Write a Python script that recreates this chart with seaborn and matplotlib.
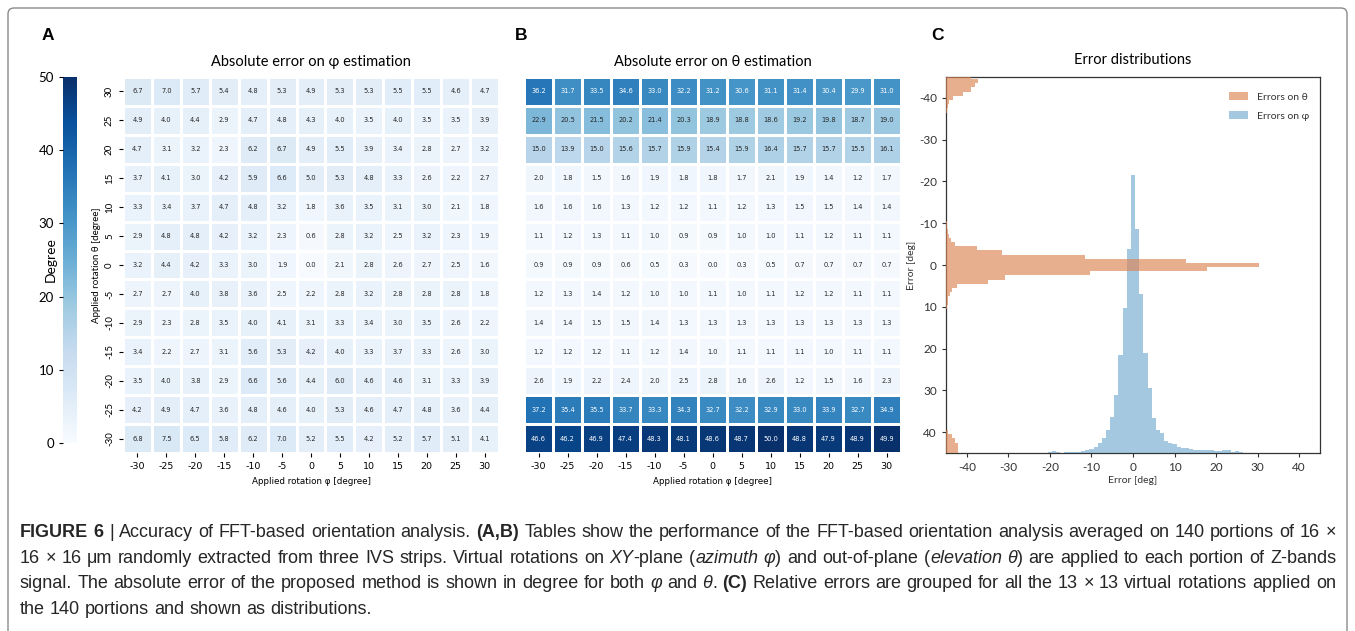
import re
import numpy as np
import pandas as pd
import matplotlib
matplotlib.use("Agg")
import matplotlib.pyplot as plt
from matplotlib.patches import Patch, FancyBboxPatch
import seaborn as sns

plt.rcParams['axes.unicode_minus'] = False

# ---------------- data ----------------
phi_vals = [-30, -25, -20, -15, -10, -5, 0, 5, 10, 15, 20, 25, 30]
theta_vals = [30, 25, 20, 15, 10, 5, 0, -5, -10, -15, -20, -25, -30]

err_phi = [
    [6.7, 7.0, 5.7, 5.4, 4.8, 5.3, 4.9, 5.3, 5.3, 5.5, 5.5, 4.6, 4.7],
    [4.9, 4.0, 4.4, 2.9, 4.7, 4.8, 4.3, 4.0, 3.5, 4.0, 3.5, 3.5, 3.9],
    [4.7, 3.1, 3.2, 2.3, 6.2, 6.7, 4.9, 5.5, 3.9, 3.4, 2.8, 2.7, 3.2],
    [3.7, 4.1, 3.0, 4.2, 5.9, 6.6, 5.0, 5.3, 4.8, 3.3, 2.6, 2.2, 2.7],
    [3.3, 3.4, 3.7, 4.7, 4.8, 3.2, 1.8, 3.6, 3.5, 3.1, 3.0, 2.1, 1.8],
    [2.9, 4.8, 4.8, 4.2, 3.2, 2.3, 0.6, 2.8, 3.2, 2.5, 3.2, 2.3, 1.9],
    [3.2, 4.4, 4.2, 3.3, 3.0, 1.9, 0.0, 2.1, 2.8, 2.6, 2.7, 2.5, 1.6],
    [2.7, 2.7, 4.0, 3.8, 3.6, 2.5, 2.2, 2.8, 3.2, 2.8, 2.8, 2.8, 1.8],
    [2.9, 2.3, 2.8, 3.5, 4.0, 4.1, 3.1, 3.3, 3.4, 3.0, 3.5, 2.6, 2.2],
    [3.4, 2.2, 2.7, 3.1, 5.6, 5.3, 4.2, 4.0, 3.3, 3.7, 3.3, 2.6, 3.0],
    [3.5, 4.0, 3.8, 2.9, 6.6, 5.6, 4.4, 6.0, 4.6, 4.6, 3.1, 3.3, 3.9],
    [4.2, 4.9, 4.7, 3.6, 4.8, 4.6, 4.0, 5.3, 4.6, 4.7, 4.8, 3.6, 4.4],
    [6.8, 7.5, 6.5, 5.8, 6.2, 7.0, 5.2, 5.5, 4.2, 5.2, 5.7, 5.1, 4.1],
]

err_theta = [
    [36.2, 31.7, 33.5, 34.6, 33.0, 32.2, 31.2, 30.6, 31.1, 31.4, 30.4, 29.9, 31.0],
    [22.9, 20.5, 21.5, 20.2, 21.4, 20.3, 18.9, 18.8, 18.6, 19.2, 19.8, 18.7, 19.0],
    [15.0, 13.9, 15.0, 15.6, 15.7, 15.9, 15.4, 15.9, 16.4, 15.7, 15.7, 15.5, 16.1],
    [2.0, 1.8, 1.5, 1.6, 1.9, 1.8, 1.8, 1.7, 2.1, 1.9, 1.4, 1.2, 1.7],
    [1.6, 1.6, 1.6, 1.3, 1.2, 1.2, 1.1, 1.2, 1.3, 1.5, 1.5, 1.4, 1.4],
    [1.1, 1.2, 1.3, 1.1, 1.0, 0.9, 0.9, 1.0, 1.0, 1.1, 1.2, 1.1, 1.1],
    [0.9, 0.9, 0.9, 0.6, 0.5, 0.3, 0.0, 0.3, 0.5, 0.7, 0.7, 0.7, 0.7],
    [1.2, 1.3, 1.4, 1.2, 1.0, 1.0, 1.1, 1.0, 1.1, 1.2, 1.2, 1.1, 1.1],
    [1.4, 1.4, 1.5, 1.5, 1.4, 1.3, 1.3, 1.3, 1.3, 1.3, 1.3, 1.3, 1.3],
    [1.2, 1.2, 1.2, 1.1, 1.2, 1.4, 1.0, 1.1, 1.1, 1.1, 1.0, 1.1, 1.1],
    [2.6, 1.9, 2.2, 2.4, 2.0, 2.5, 2.8, 1.6, 2.6, 1.2, 1.5, 1.6, 2.3],
    [37.2, 35.4, 35.5, 33.7, 33.3, 34.3, 32.7, 32.2, 32.9, 33.0, 33.9, 32.7, 34.9],
    [46.6, 46.2, 46.9, 47.4, 48.3, 48.1, 48.6, 48.7, 50.0, 48.8, 47.9, 48.9, 49.9],
]

# distribution of errors on phi (bin centre in deg, relative frequency)
phi_err_centers = list(range(-25, 31))
phi_err_freq = [0.1, 0.1, 0.1, 0.1, 0.1, 0.2, 0.4, 0.2, 0.1, 0.2,
                0.2, 0.3, 0.3, 0.4, 0.6, 0.9, 1.5, 2.3, 3.5, 5.6,
                8.7, 13.9, 23.5, 34.7, 48.9, 66.6, 53.7, 38.0, 24.0, 15.6,
                8.3, 5.6, 4.7, 2.9, 2.5, 2.1, 1.5, 1.3, 1.1, 0.9,
                0.8, 0.7, 0.8, 0.6, 0.6, 0.4, 0.5, 0.8, 0.7, 0.3,
                0.4, 0.3, 0.1, 0.1, 0.1, 0.1]

# distribution of errors on theta (bin centre in deg, relative frequency)
theta_err_centers = [-45, -44, -43, -42, -41, -40, -39, -38, -37,
                     -10, -9, -8, -7, -6, -5, -4, -3, -2, -1, 0, 1, 2, 3, 4, 5, 6, 7, 8, 9, 10,
                     40, 41, 42, 43, 44, 45]
theta_err_freq = [6.0, 7.6, 7.0, 6.0, 4.0, 1.8, 0.8, 0.4, 0.2,
                  0.3, 0.3, 0.5, 0.8, 1.2, 2.2, 7.5, 13.5, 33.4, 57.8, 75.3, 62.8, 34.6, 14.3, 10.0, 2.6, 1.5, 0.9, 0.6, 0.4, 0.3,
                  0.6, 1.4, 2.2, 2.8, 3.0, 2.9]

tick_deg = [-40, -30, -20, -10, 0, 10, 20, 30, 40]
cbar_ticks = [0, 10, 20, 30, 40, 50]

# ---------------- figure ----------------
W, H = 1355, 631
fig = plt.figure(figsize=(W / 100, H / 100), dpi=100)
fig.patch.set_facecolor('white')


def box(x0, y0, x1, y1):
    return [x0 / W, 1 - y1 / H, (x1 - x0) / W, (y1 - y0) / H]


LATO = ['Lato', 'DejaVu Sans']
BLUE = '#1f77b4'
ORANGE = '#dd8452'

# frame around the figure
fig.patches.append(FancyBboxPatch((8 / 100, (H - 660) / 100), (W - 16) / 100, (660 - 8) / 100,
                                  boxstyle='round,pad=0,rounding_size=0.06',
                                  transform=fig.dpi_scale_trans, fill=False,
                                  edgecolor='#8a8a8a', linewidth=1.0))

# ---- panel A ----
dfA = pd.DataFrame(err_phi, index=theta_vals, columns=phi_vals)
axA = fig.add_axes(box(123, 77, 499, 453))
sns.heatmap(dfA, ax=axA, cmap='Blues', vmin=0, vmax=50, annot=True, fmt='.1f',
            annot_kws={'fontsize': 4.8}, linewidths=1, linecolor='white', cbar=False)
axA.set_title('Absolute error on φ estimation', family=LATO, fontsize=10.5, pad=8)
axA.set_xlabel('Applied rotation φ [degree]', fontsize=6.3, labelpad=4)
axA.set_ylabel('Applied rotation θ [degree]', family=LATO, fontsize=7, labelpad=3)
axA.tick_params(axis='x', labelsize=6.8, length=3, width=0.8, rotation=0)
axA.tick_params(axis='y', labelsize=7, length=3, width=0.8)
for t in axA.get_yticklabels():
    t.set_rotation(90)
    t.set_va('center')
    t.set_family(LATO)

# colorbar
cax = fig.add_axes(box(63, 77, 77, 443))
cb = fig.colorbar(axA.collections[0], cax=cax)
cb.outline.set_visible(False)
cb.set_ticks(cbar_ticks)
cax.yaxis.set_ticks_position('left')
cax.yaxis.set_label_position('left')
cax.tick_params(labelsize=9.5, length=3, width=0.8)
for t in cax.get_yticklabels():
    t.set_family(LATO)
cb.set_label('Degree', family=LATO, fontsize=10, labelpad=2)
cax.yaxis.set_label_coords(-0.45, 0.5)

# ---- panel B ----
dfB = pd.DataFrame(err_theta, index=theta_vals, columns=phi_vals)
axB = fig.add_axes(box(524, 77, 901, 453))
sns.heatmap(dfB, ax=axB, cmap='Blues', vmin=0, vmax=50, annot=True, fmt='.1f',
            annot_kws={'fontsize': 4.8}, linewidths=1, linecolor='white', cbar=False,
            yticklabels=False)
axB.set_title('Absolute error on θ estimation', family=LATO, fontsize=10.5, pad=8)
axB.set_xlabel('Applied rotation φ [degree]', fontsize=6.3, labelpad=4)
axB.set_ylabel('')
axB.tick_params(axis='x', labelsize=6.8, length=3, width=0.8, rotation=0)

# ---- panel C ----
axC = fig.add_axes(box(946, 77, 1320, 453))
ax_phi = axC.twinx()
ax_th = axC.twiny()
df_phi = pd.DataFrame({'err': phi_err_centers, 'freq': phi_err_freq})
df_th = pd.DataFrame({'err': theta_err_centers, 'freq': theta_err_freq})
sns.histplot(data=df_phi, x='err', weights='freq', binwidth=1,
             binrange=(min(phi_err_centers) - 0.5, max(phi_err_centers) + 0.5), ax=ax_phi,
             color=BLUE, alpha=0.4, edgecolor='none', linewidth=0)
sns.histplot(data=df_th, y='err', weights='freq', binwidth=1,
             binrange=(min(theta_err_centers) - 0.5, max(theta_err_centers) + 0.5), ax=ax_th,
             color=ORANGE, alpha=0.65, edgecolor='none', linewidth=0)
ax_phi.set_ylim(0, 90)
ax_phi.set_yticks([])
ax_phi.set_ylabel('')
ax_phi.set_xlabel('')
ax_th.set_xlim(0, 90)
ax_th.set_xticks([])
ax_th.set_xlabel('')
ax_th.set_ylabel('')
for a in (ax_phi, ax_th):
    for s in a.spines.values():
        s.set_visible(False)
axC.set_xlim(-45, 45)
axC.set_ylim(45, -45)
axC.set_xticks(tick_deg)
axC.set_yticks(tick_deg)
for s in axC.spines.values():
    s.set_color('#333333')
    s.set_linewidth(0.9)
axC.tick_params(labelsize=8.5, length=3, width=0.8, colors='#333333')
for t in axC.get_xticklabels() + axC.get_yticklabels():
    t.set_family(LATO)
axC.set_xlabel('Error [deg]', family=LATO, fontsize=7.5, labelpad=2, color='#333333')
axC.set_ylabel('Error [deg]', family=LATO, fontsize=7.5, labelpad=2, color='#333333')
axC.set_title('Error distributions', family=LATO, fontsize=10.5, pad=9)
handles = [Patch(facecolor=ORANGE, alpha=0.65, edgecolor='none'),
           Patch(facecolor=BLUE, alpha=0.4, edgecolor='none')]
ax_th.legend(handles, ['Errors on θ', 'Errors on φ'], loc='upper right',
             bbox_to_anchor=(0.995, 0.985), frameon=False,
             prop={'family': LATO, 'size': 7.5}, handlelength=1.8, handleheight=0.8,
             labelspacing=0.9, labelcolor='#333333')

# panel letters
for letter, x in (('A', 48), ('B', 521), ('C', 937)):
    fig.text(x / W, 1 - 35 / H, letter, ha='center', va='center', fontsize=12.5,
             fontweight='bold', family=['Liberation Sans', 'DejaVu Sans'])

# ---------------- caption ----------------
caption_lines = [
    "**FIGURE 6** | Accuracy of FFT-based orientation analysis. **(A,B)** Tables show the performance of the FFT-based orientation analysis averaged on 140 portions of 16 ×",
    "16 × 16 μm randomly extracted from three IVS strips. Virtual rotations on __XY__-plane (__azimuth φ__) and out-of-plane (__elevation θ__) are applied to each portion of Z-bands",
    "signal. The absolute error of the proposed method is shown in degree for both __φ__ and __θ__. **(C)** Relative errors are grouped for all the 13 × 13 virtual rotations applied on",
    "the 140 portions and shown as distributions.",
]


def parse_words(s):
    runs = []
    for part in re.split(r'(\*\*.*?\*\*|__.*?__)', s):
        if not part:
            continue
        if part.startswith('**'):
            runs.append((part[2:-2], 'bold'))
        elif part.startswith('__'):
            runs.append((part[2:-2], 'italic'))
        else:
            runs.append((part, 'normal'))
    words = [[]]
    for text, st in runs:
        pieces = text.split(' ')
        for i, p in enumerate(pieces):
            if i > 0:
                words.append([])
            if p:
                words[-1].append((p, st))
    return [w for w in words if w]


cap_fam = 'Liberation Sans'
renderer = fig.canvas.get_renderer()


def props(st, size):
    return dict(family=[cap_fam, 'DejaVu Sans'], fontsize=size,
                fontweight='bold' if st == 'bold' else 'normal',
                fontstyle='italic' if st == 'italic' else 'normal', color='#262626')


def tw(s, st, size):
    t = fig.text(0, 0, s, **props(st, size))
    w = t.get_window_extent(renderer).width
    t.remove()
    return w


def natural(line, size):
    words = parse_words(line)
    sp = tw('x x', 'normal', size) - tw('xx', 'normal', size)
    return sum(tw(p, st, size) for w in words for p, st in w) + sp * (len(words) - 1)


x_left, x_right = 20, 1336
size = 11.3
for _ in range(4):
    nat = max(natural(l, size) for l in caption_lines[:3])
    size *= (x_right - x_left) * 0.993 / nat

baselines = [537, 563, 588.5, 614]
for li, line in enumerate(caption_lines):
    words = parse_words(line)
    widths = [[tw(p, st, size) for p, st in w] for w in words]
    total = sum(sum(ws) for ws in widths)
    sp = tw('x x', 'normal', size) - tw('xx', 'normal', size)
    if li < len(caption_lines) - 1 and len(words) > 1:
        gap = (x_right - x_left - total) / (len(words) - 1)
    else:
        gap = sp
    x = x_left
    for w, ws in zip(words, widths):
        for (p, st), wd in zip(w, ws):
            fig.text(x / W, 1 - baselines[li] / H, p, va='baseline', ha='left', **props(st, size))
            x += wd
        x += gap

fig.savefig('out.png', dpi=100, facecolor='white')
